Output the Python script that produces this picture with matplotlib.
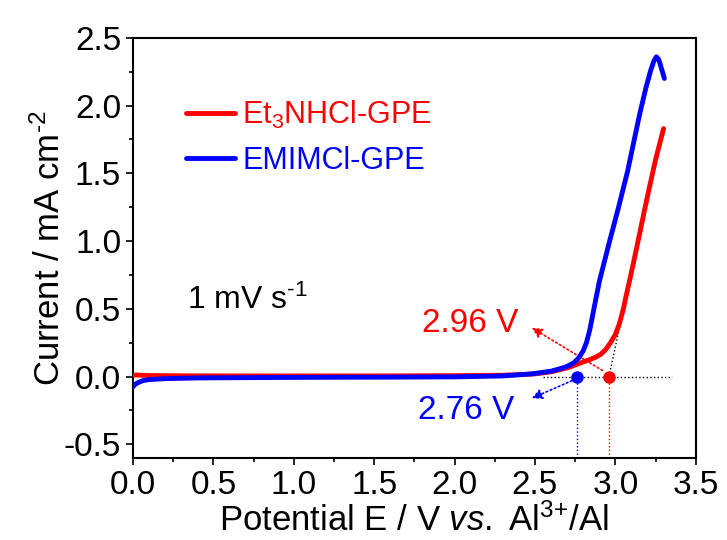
import matplotlib
matplotlib.use("Agg")
import matplotlib.pyplot as plt
from matplotlib.ticker import MultipleLocator

plt.rcParams["font.family"] = ["Liberation Sans", "DejaVu Sans"]
plt.rcParams["mathtext.fontset"] = "custom"
plt.rcParams["mathtext.rm"] = "Liberation Sans"
plt.rcParams["mathtext.it"] = "Liberation Sans:italic"
plt.rcParams["axes.unicode_minus"] = False

# LSV curves (potential in V, current in mA cm^-2)
et3n_x = [0.0, 0.02, 0.05, 0.1, 0.3, 0.6, 1.0, 1.5, 2.0, 2.3, 2.5, 2.6, 2.7, 2.76, 2.8,
          2.84, 2.88, 2.91, 2.94, 2.97, 3.0, 3.025, 3.05, 3.066, 3.087, 3.12, 3.15, 3.18,
          3.207, 3.25, 3.30]
et3n_y = [0.01, 0.012, 0.01, 0.008, 0.006, 0.005, 0.005, 0.005, 0.007, 0.01, 0.02, 0.035, 0.064,
          0.09, 0.108, 0.125, 0.145, 0.165, 0.2, 0.25, 0.31, 0.39, 0.5, 0.59, 0.70, 0.88, 1.05,
          1.22, 1.37, 1.6, 1.83]

emim_x = [0.0, 0.01, 0.03, 0.06, 0.1, 0.2, 0.4, 0.8, 1.2, 1.6, 2.0, 2.3, 2.48, 2.6, 2.69,
          2.74, 2.77, 2.8, 2.82, 2.84, 2.87, 2.90, 2.96, 3.02, 3.076, 3.15, 3.19, 3.22, 3.24,
          3.255, 3.27, 3.285, 3.305]
emim_y = [-0.075, -0.06, -0.045, -0.03, -0.022, -0.015, -0.01, -0.007, -0.005, -0.004, -0.002,
          0.005, 0.02, 0.04, 0.07, 0.1, 0.135, 0.19, 0.25, 0.34, 0.52, 0.70, 0.98, 1.25, 1.515,
          1.93, 2.13, 2.26, 2.33, 2.36, 2.34, 2.28, 2.20]

# onset potentials from tangent intercepts
onset_et3n = 2.96
onset_emim = 2.76
tangent_top = (3.10, 0.77)

fig = plt.figure(figsize=(7.27, 5.4), dpi=100)
ax = fig.add_axes([0.183, 0.152, 0.774, 0.778])

red = "#ff0000"
blue = "#0000ff"

# guide lines
ax.plot([2.55, 3.35], [0, 0], color="black", ls=":", lw=1.0, zorder=1)
ax.plot([onset_et3n, tangent_top[0]], [0, tangent_top[1]], color="black", ls=":", lw=1.0, zorder=1)
ax.plot([onset_et3n, onset_et3n], [-0.6, 0], color=red, ls=":", lw=1.0, zorder=1)
ax.plot([onset_emim, onset_emim], [-0.6, 0], color=blue, ls=":", lw=1.0, zorder=1)

ax.plot(et3n_x, et3n_y, color=red, lw=3.5, label="Et$_3$NHCl-GPE", zorder=3,
        solid_joinstyle="round", solid_capstyle="round")
ax.plot(emim_x, emim_y, color=blue, lw=3.5, label="EMIMCl-GPE", zorder=4,
        solid_joinstyle="round", solid_capstyle="round")

ax.plot([onset_et3n], [0], "o", color=red, ms=8, zorder=5)
ax.plot([onset_emim], [0], "o", color=blue, ms=8, zorder=5)

# dotted arrows to the onset labels
ax.annotate("", xy=(2.48, 0.36), xytext=(2.92, 0.045),
            arrowprops=dict(arrowstyle="-|>,head_length=0.6,head_width=0.3",
                            color=red, ls=":", lw=1.2, shrinkA=0, shrinkB=0))
ax.annotate("", xy=(2.48, -0.16), xytext=(2.73, -0.03),
            arrowprops=dict(arrowstyle="-|>,head_length=0.6,head_width=0.3",
                            color=blue, ls=":", lw=1.2, shrinkA=0, shrinkB=0))

ax.text(2.1, 0.39, f"{onset_et3n:.2f} V", color=red, fontsize=24, ha="center", va="center")
ax.text(2.07, -0.25, f"{onset_emim:.2f} V", color=blue, fontsize=24, ha="center", va="center")
ax.text(0.335, 0.56, "1 mV s$^{\\text{-1}}$", color="black", fontsize=23, ha="left", va="center")

ax.set_xlim(0, 3.5)
ax.set_ylim(-0.6, 2.5)
ax.xaxis.set_major_locator(MultipleLocator(0.5))
ax.xaxis.set_minor_locator(MultipleLocator(0.25))
ax.yaxis.set_major_locator(MultipleLocator(0.5))
ax.yaxis.set_minor_locator(MultipleLocator(0.25))
ax.tick_params(which="major", direction="out", length=5, width=1.2, labelsize=24)
ax.tick_params(which="minor", direction="out", length=3, width=1.2)
for s in ax.spines.values():
    s.set_linewidth(1.5)

ax.set_xlabel("Potential E / V $\\mathit{vs.}$ Al$^{\\text{3+}}$/Al", fontsize=25, labelpad=2)
ax.set_ylabel("Current / mA cm$^{\\text{-2}}$", fontsize=25, labelpad=-2)

leg = ax.legend(loc="upper left", bbox_to_anchor=(0.094, 0.855), frameon=False, fontsize=22,
                handlelength=1.6, handletextpad=0.25, labelspacing=0.5, borderpad=0,
                borderaxespad=0)
for t, c in zip(leg.get_texts(), [red, blue]):
    t.set_color(c)

fig.savefig("out.png", dpi=100)
